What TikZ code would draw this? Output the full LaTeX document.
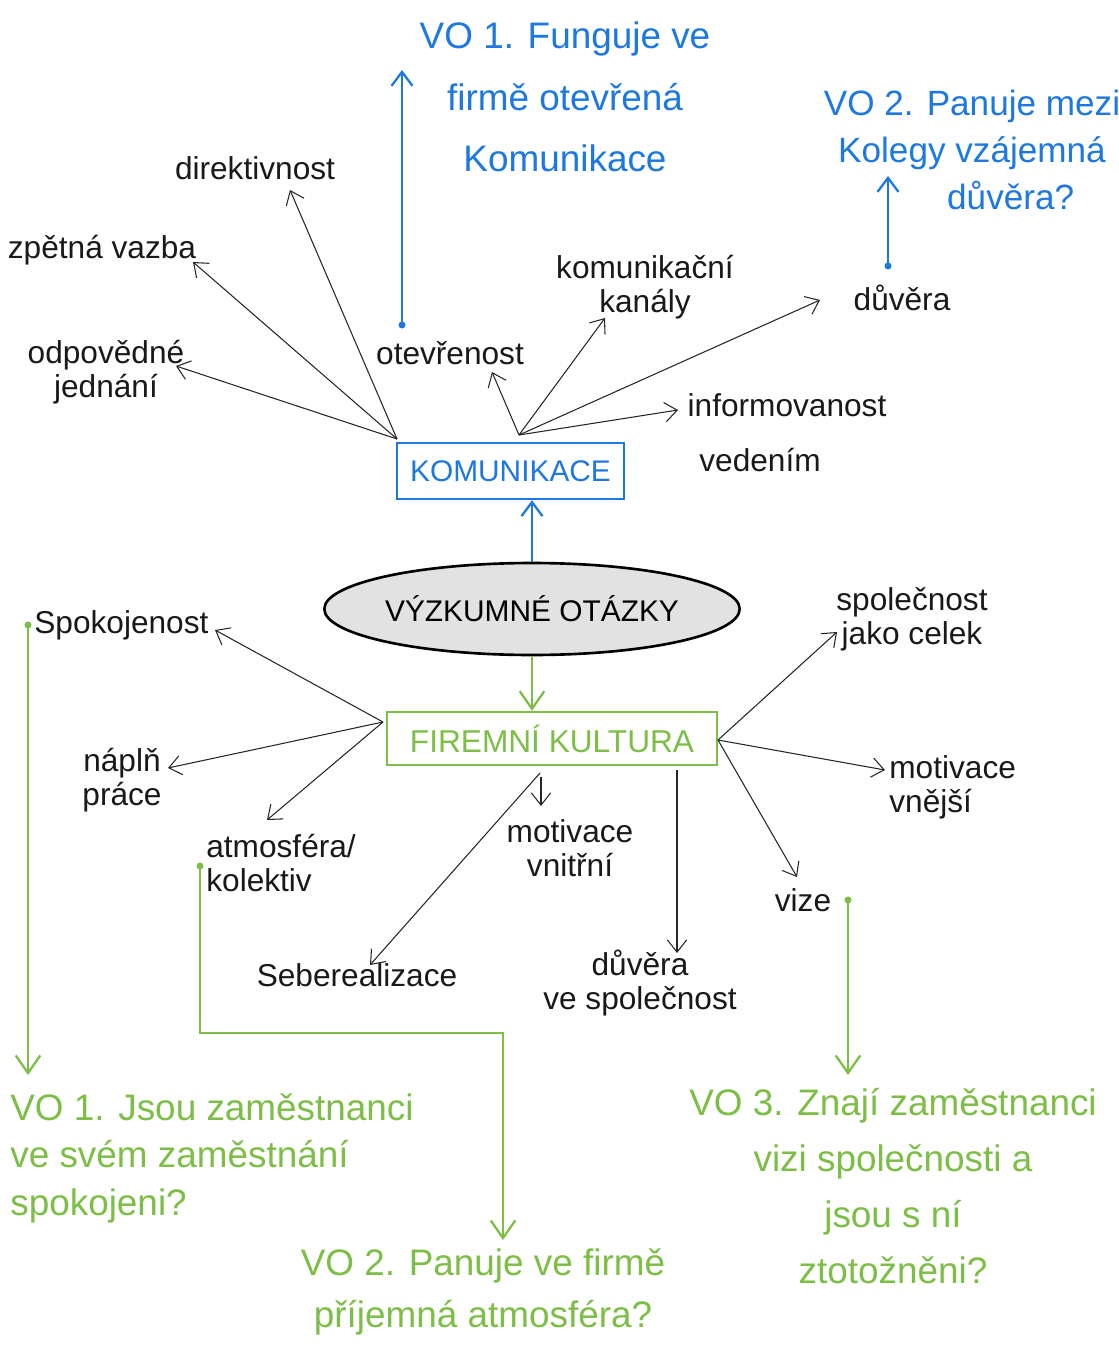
\documentclass[tikz,border=0pt]{standalone}
\usepackage{fontspec}
\setmainfont{Liberation Sans}
\usetikzlibrary{arrows.meta,shapes.geometric}
\definecolor{hblue}{RGB}{30,120,225}
\definecolor{hgreen}{RGB}{125,190,70}
\definecolor{ellfill}{RGB}{226,226,226}
\begin{document}
\begin{tikzpicture}[x=0.02cm,y=-0.02cm,
  lbl/.style={font=\fontsize{18}{19.5}\selectfont, align=center, inner sep=0pt, text=black!90},
  bq/.style={text=hblue, font=\fontsize{21}{35}\selectfont, align=center, inner sep=0pt},
  gq/.style={text=hgreen, font=\fontsize{21}{27}\selectfont, inner sep=0pt},
  arr/.style={-{Straight Barb[length=7pt,width=11pt]}, line width=0.6pt, black!85},
  barr/.style={-{Straight Barb[length=8pt,width=12pt]}, line width=1.3pt, hblue},
  garr/.style={-{Straight Barb[length=10pt,width=14pt]}, line width=1.3pt, hgreen},
  dotb/.style={circle, fill=hblue, inner sep=0pt, minimum size=4pt},
  dotg/.style={circle, fill=hgreen, inner sep=0pt, minimum size=4pt},
  kbox/.style={draw=hblue, line width=1.4pt, text=hblue, minimum width=4.54cm, minimum height=1.12cm, inner sep=0pt, font=\fontsize{17}{20}\selectfont},
  fbox/.style={draw=hgreen, line width=1.4pt, text=hgreen, minimum width=6.6cm, minimum height=1.06cm, inner sep=0pt, font=\fontsize{18}{20}\selectfont},
  ell/.style={ellipse, draw=black, line width=1.5pt, fill=ellfill, minimum width=8.04cm, minimum height=1.84cm, inner sep=0pt, font=\fontsize{17}{20}\selectfont}
]
\useasboundingbox[fill=white] (0,0) rectangle (1118,1354);

% central nodes
\node[kbox] (kom) at (510.5,471) {KOMUNIKACE};
\node[ell] (vyz) at (532,609) {VÝZKUMNÉ OTÁZKY};
\node[fbox] (fk) at (552,738.5) {FIREMNÍ KULTURA};
\draw[barr] (vyz.north) -- (kom.south -| vyz.north);
\draw[garr] (vyz.south) -- (fk.north -| vyz.south);

% origins
\coordinate (kA) at (397,439);
\coordinate (kB) at (519,435);
\coordinate (fL) at (383,722);
\coordinate (fR) at (718,740);
\coordinate (fB1) at (540,773);
\coordinate (fB2) at (541,777);
\coordinate (fB3) at (677,770);

% KOMUNIKACE branches
\node[lbl] (dir) at (255,168) {direktivnost};
\node[lbl] (zpv) at (102,250) {zpětná vazba};
\node[lbl] (odp) at (106,372) {odpovědné\\jednání};
\node[lbl] (ote) at (450,353) {otevřenost};
\node[lbl] (kan) at (645,287) {komunikační\\kanály};
\node[lbl] (duv) at (902,298) {důvěra};
\node[lbl] (inf) at (787,405) {informovanost};
\node[lbl] (ved) at (760,460) {vedením};
\coordinate (tDir) at (290,190);
\coordinate (tZpv) at (193,262);
\coordinate (tOdp) at (176,366);
\coordinate (tOte) at (492,372);
\coordinate (tKan) at (605,318);
\coordinate (tDuv) at (820,300);
\coordinate (tInf) at (678,410);
\draw[arr] (kA) -- (tDir);
\draw[arr] (kA) -- (tZpv);
\draw[arr] (kA) -- (tOdp);
\draw[arr] (kB) -- (tOte);
\draw[arr] (kB) -- (tKan);
\draw[arr] (kB) -- (tDuv);
\draw[arr] (kB) -- (tInf);

% FIREMNI KULTURA branches
\node[lbl, anchor=west] (spo) at (34,625) {Spokojenost};
\node[lbl] (nap) at (122,780) {náplň\\práce};
\node[lbl, align=left, anchor=west] (atm) at (206,863) {atmosféra/\\kolektiv};
\node[lbl] (seb) at (357,975) {Seberealizace};
\node[lbl] (mvn) at (570,848) {motivace\\vnitřní};
\node[lbl] (dsp) at (640,983) {důvěra\\ve společnost};
\node[lbl] (spc) at (912,619) {společnost\\jako celek};
\node[lbl, align=left, anchor=west] (mvj) at (889,787) {motivace\\vnější};
\node[lbl] (viz) at (803,900) {vize};
\coordinate (tSpo) at (215,630);
\coordinate (tNap) at (168,768);
\coordinate (tAtm) at (267,820);
\coordinate (tSeb) at (370,965);
\coordinate (tMvn) at (541,806);
\coordinate (tDsp) at (677,953);
\coordinate (tSpc) at (837,632);
\coordinate (tMvj) at (885,770);
\coordinate (tViz) at (797,877);
\draw[arr] (fL) -- (tSpo);
\draw[arr] (fL) -- (tNap);
\draw[arr] (fL) -- (tAtm);
\draw[arr] (fB1) -- (tSeb);
\draw[arr] (fB2) -- (tMvn);
\draw[arr] (fB3) -- (tDsp);
\draw[arr] (fR) -- (tSpc);
\draw[arr] (fR) -- (tMvj);
\draw[arr] (fR) -- (tViz);

% blue research questions
\node[bq] (q1) at (565,97) {VO 1. Funguje ve\\firmě otevřená\\Komunikace};
\node[bq, font=\fontsize{20}{27}\selectfont] (q2) at (972,150) {VO 2. Panuje mezi\\Kolegy vzájemná\\\hspace*{2.2em}důvěra?};
\node[dotb] (bd1) at (402,325) {};
\coordinate (bt1) at (402,70);
\draw[barr] (bd1.center) -- (bt1);
\node[dotb] (bd2) at (888,266) {};
\coordinate (bt2) at (888,176);
\draw[barr] (bd2.center) -- (bt2);

% green research questions
\node[gq, align=left, anchor=west] (g1) at (10,1158) {VO 1. Jsou zaměstnanci\\ve svém zaměstnání\\spokojeni?};
\node[gq, align=center, font=\fontsize{21}{30}\selectfont] (g2) at (483,1292) {VO 2. Panuje ve firmě\\příjemná atmosféra?};
\node[gq, align=center, font=\fontsize{21}{32}\selectfont] (g3) at (893,1186) {VO 3. Znají zaměstnanci\\vizi společnosti a\\jsou s ní\\ztotožněni?};

\node[dotg] (gd1) at (28,625) {};
\coordinate (gt1) at (28,1075);
\draw[garr] (gd1.center) -- (gt1);
\node[dotg] (gd2) at (200,866) {};
\coordinate (gc1) at (200,1033);
\coordinate (gc2) at (503,1033);
\coordinate (gt2) at (503,1240);
\draw[garr] (gd2.center) -- (gc1) -- (gc2) -- (gt2);
\node[dotg] (gd3) at (848,900) {};
\coordinate (gt3) at (848,1075);
\draw[garr] (gd3.center) -- (gt3);
\end{tikzpicture}
\end{document}
